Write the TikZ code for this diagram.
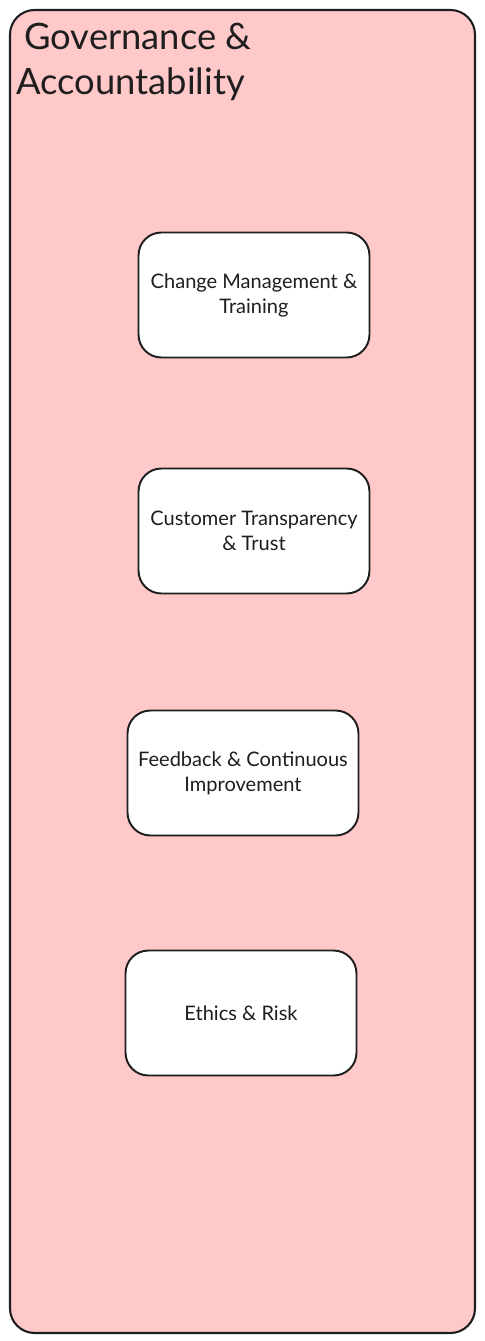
\documentclass[tikz,border=0pt]{standalone}
\usepackage{fontspec}
\setmainfont{Lato}
\usepackage{tikz}
\usepackage{xcolor}
\definecolor{GroupRed}{HTML}{FFC9C9}
\definecolor{InkBlack}{HTML}{1E1E1E}
\tikzset{
  groupbox/.style={draw=InkBlack, fill=GroupRed, line width=1.2pt, rounded corners=14pt},
  stepcard/.style={draw=InkBlack, fill=white, line width=1.1pt, rounded corners=13pt,
    minimum width=4.62cm, minimum height=2.5cm, align=center, font=\fontsize{11.4}{14.2}\selectfont, text=InkBlack},
  grouptitle/.style={anchor=north west, align=left, inner sep=0pt, text=InkBlack, font=\fontsize{20.7}{25.5}\selectfont}
}

\begin{document}
\begin{tikzpicture}[x=0.02cm,y=-0.02cm]
            \useasboundingbox (0,0) rectangle (484,1341);
            \draw[groupbox] (10,10) rectangle (475,1333);

            \node[grouptitle] (title) at (16,23) {\hspace{0.16cm}Governance \&\\Accountability};

            \node[stepcard] (change) at (254,295) {Change Management \&\\Training};
            \node[stepcard] (customer) at (254,531) {Customer Transparency\\\& Trust};
            \node[stepcard] (feedback) at (243,773) {Feedback \& Continuous\\Improvement};
            \node[stepcard] (ethics) at (241,1013) {Ethics \& Risk};
        \end{tikzpicture}
\end{document}
